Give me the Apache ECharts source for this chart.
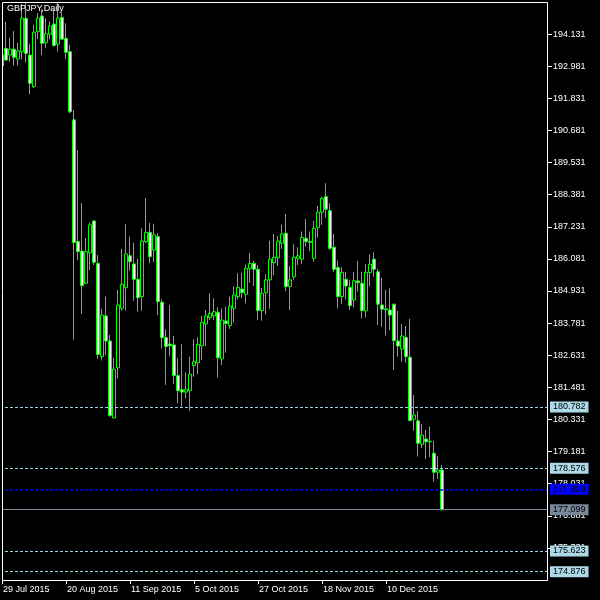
<!DOCTYPE html>
<html>
<head>
<meta charset="utf-8">
<script src="https://cdn.jsdelivr.net/npm/echarts@6/dist/echarts.min.js"></script>
<style>html,body{margin:0;padding:0;background:#000;}#chart{width:600px;height:600px;}</style>
</head>
<body>
<div id="chart"></div>
<script>
const title = 'GBPJPY,Daily';
const dates = [
'29 Jul 2015','30 Jul 2015','31 Jul 2015',
'3 Aug 2015','4 Aug 2015','5 Aug 2015','6 Aug 2015','7 Aug 2015','10 Aug 2015','11 Aug 2015','12 Aug 2015','13 Aug 2015','14 Aug 2015','17 Aug 2015','18 Aug 2015','19 Aug 2015','20 Aug 2015','21 Aug 2015','24 Aug 2015','25 Aug 2015','26 Aug 2015','27 Aug 2015','28 Aug 2015','31 Aug 2015',
'1 Sep 2015','2 Sep 2015','3 Sep 2015','4 Sep 2015','7 Sep 2015','8 Sep 2015','9 Sep 2015','10 Sep 2015','11 Sep 2015','14 Sep 2015','15 Sep 2015','16 Sep 2015','17 Sep 2015','18 Sep 2015','21 Sep 2015','22 Sep 2015','23 Sep 2015','24 Sep 2015','25 Sep 2015','28 Sep 2015','29 Sep 2015','30 Sep 2015',
'1 Oct 2015','2 Oct 2015','5 Oct 2015','6 Oct 2015','7 Oct 2015','8 Oct 2015','9 Oct 2015','12 Oct 2015','13 Oct 2015','14 Oct 2015','15 Oct 2015','16 Oct 2015','19 Oct 2015','20 Oct 2015','21 Oct 2015','22 Oct 2015','23 Oct 2015','26 Oct 2015','27 Oct 2015','28 Oct 2015','29 Oct 2015','30 Oct 2015',
'2 Nov 2015','3 Nov 2015','4 Nov 2015','5 Nov 2015','6 Nov 2015','9 Nov 2015','10 Nov 2015','11 Nov 2015','12 Nov 2015','13 Nov 2015','16 Nov 2015','17 Nov 2015','18 Nov 2015','19 Nov 2015','20 Nov 2015','23 Nov 2015','24 Nov 2015','25 Nov 2015','26 Nov 2015','27 Nov 2015','30 Nov 2015',
'1 Dec 2015','2 Dec 2015','3 Dec 2015','4 Dec 2015','7 Dec 2015','8 Dec 2015','9 Dec 2015','10 Dec 2015','11 Dec 2015','14 Dec 2015','15 Dec 2015','16 Dec 2015','17 Dec 2015','18 Dec 2015','21 Dec 2015','22 Dec 2015','23 Dec 2015','24 Dec 2015','25 Dec 2015','28 Dec 2015','29 Dec 2015','30 Dec 2015'
];
const opens = [193.38,193.62,193.38,193.59,193.24,193.50,194.70,193.38,192.25,194.22,194.78,193.82,194.12,194.49,193.77,194.73,193.98,193.50,191.06,186.70,186.36,185.21,186.30,187.44,185.92,182.58,184.04,183.14,180.39,182.18,184.31,185.05,186.19,185.90,185.35,184.73,186.70,187.03,186.40,186.88,184.53,183.26,183.03,183.00,181.90,181.39,181.31,181.36,182.26,182.36,182.97,183.75,183.98,184.04,184.17,182.50,183.86,183.69,184.31,184.73,185.00,184.81,185.74,185.92,185.71,184.23,184.87,185.33,185.95,186.12,186.64,187.00,185.09,185.44,186.10,186.07,186.82,186.70,186.10,187.21,187.75,188.31,187.81,186.50,185.77,184.73,185.35,185.06,184.61,185.29,185.21,184.22,185.59,186.07,185.62,184.43,184.29,184.25,184.46,183.14,182.85,183.27,182.56,180.34,180.28,179.44,179.63,179.55,179.12,178.44,178.52];
const closes = [192.99,193.20,193.59,193.30,193.53,194.70,193.44,192.37,194.20,194.70,193.80,194.14,194.42,193.72,194.70,193.95,193.48,191.35,186.67,186.34,185.12,186.34,187.30,185.96,182.66,184.07,183.14,180.47,182.13,184.43,185.17,186.26,185.98,185.35,184.69,186.72,187.03,186.16,186.94,184.55,183.26,182.94,182.97,181.90,181.36,181.31,181.41,181.95,182.40,183.02,183.81,184.04,184.13,184.19,182.54,183.89,183.77,184.39,184.79,185.06,184.87,185.74,185.92,185.71,184.23,184.85,185.33,186.07,186.14,186.72,186.97,185.09,185.33,186.14,186.19,186.85,186.70,186.67,187.18,187.75,188.25,187.86,186.46,185.71,184.73,185.60,185.11,184.41,185.30,185.23,184.23,185.60,185.89,185.71,184.46,184.28,184.26,184.07,183.15,182.96,183.32,182.58,180.29,180.49,179.48,179.77,179.53,179.53,178.44,178.52,177.099];
const lows = [192.92,193.17,193.14,193.00,193.00,193.23,193.11,191.98,192.20,193.95,193.38,193.64,193.95,193.68,193.50,193.92,193.24,191.30,183.18,186.04,184.11,185.18,185.68,185.86,182.50,182.44,182.64,180.43,180.37,181.80,184.22,184.23,185.66,184.58,184.19,184.23,186.65,185.92,185.97,184.07,182.88,181.57,182.60,181.60,180.91,180.79,181.09,180.64,181.86,181.96,182.46,182.96,183.89,183.89,181.83,182.28,182.72,183.57,183.80,184.63,184.69,184.48,185.23,185.11,183.89,183.87,184.09,184.29,185.50,185.83,186.44,184.93,184.25,185.33,185.86,185.90,186.52,186.36,185.98,186.84,187.30,187.56,186.40,185.62,184.31,184.47,184.63,184.25,184.35,184.91,183.95,183.99,185.09,185.44,183.71,183.65,183.33,183.53,182.10,182.58,182.40,182.36,180.28,179.93,179.00,179.30,178.91,178.98,178.10,178.20,177.06];
const highs = [193.56,194.57,194.00,194.24,193.82,195.21,195.23,193.78,194.46,194.88,195.02,194.70,194.58,195.02,195.23,194.88,194.52,193.74,191.41,189.98,188.08,186.83,187.38,187.45,186.22,184.29,184.73,183.36,182.54,184.97,186.44,187.33,186.88,186.66,186.08,187.18,188.26,187.37,187.34,187.00,184.63,183.56,184.43,183.32,182.52,183.03,182.02,182.58,183.20,183.27,184.04,184.25,184.85,184.67,184.35,184.31,184.37,184.73,185.09,185.57,185.58,185.88,186.29,186.01,185.86,185.04,185.53,186.73,186.97,186.90,187.30,187.69,185.83,186.61,186.50,187.06,187.51,187.06,187.44,187.98,188.31,188.79,188.07,186.97,186.02,185.78,185.62,185.33,185.62,186.01,185.62,185.89,186.25,186.32,185.72,185.40,184.97,185.03,184.47,184.22,183.75,183.68,183.93,181.21,180.63,180.16,179.95,180.07,179.56,179.02,178.70];
const levelLines = [180.782, 178.576, 177.829, 177.099, 175.623, 174.876];
const levelKinds = ['cyan','cyan','blue','bid','cyan','cyan'];
const yMin = 174.581, yMax = 195.281, yStep = 1.15;
const labelEvery = 16;
const emptySlots = 26;

const cats = dates.concat(new Array(emptySlots).fill(''));
const candles = dates.map((d, i) => [opens[i], closes[i], lows[i], highs[i]]);
const styles = {
  cyan: {line: '#9fd3e6', type: [3, 2], width: 1.2, bg: '#add8e6'},
  blue: {line: '#0000ff', type: [3, 2], width: 1.6, bg: '#0000ff'},
  bid:  {line: '#778899', type: 'solid', width: 1, bg: '#778899'}
};
const tickFn = (idx) => idx % labelEvery === 0 && idx < dates.length;
const font = 'Liberation Sans';

const chart = echarts.init(document.getElementById('chart'), null, {renderer: 'canvas'});
chart.setOption({
  backgroundColor: '#000',
  animation: false,
  grid: {left: 0, right: 52, top: 2, bottom: 20, show: false},
  xAxis: {
    type: 'category', data: cats, boundaryGap: true,
    axisLine: {show: false},
    axisTick: {show: true, alignWithLabel: true, interval: tickFn, length: 4, lineStyle: {color: '#fff'}},
    axisLabel: {interval: tickFn, color: '#fff', fontSize: 9, fontFamily: font, align: 'left', margin: 5, padding: [0,0,0,1]},
    splitLine: {show: false}
  },
  yAxis: {
    type: 'value', position: 'right', min: yMin, max: yMax, interval: yStep,
    axisLine: {show: false},
    axisTick: {show: true, length: 4, lineStyle: {color: '#fff'}},
    axisLabel: {color: '#fff', fontSize: 9, fontFamily: font, margin: 5, showMinLabel: false, showMaxLabel: false,
      formatter: v => v.toFixed(3)},
    splitLine: {show: false}
  },
  series: [{
    type: 'candlestick',
    data: candles,
    barWidth: 3,
    itemStyle: {color: '#000', color0: '#fff', borderColor: '#00ff00', borderColor0: '#00ff00', borderWidth: 1},
    markLine: {
      silent: true, animation: false, symbol: ['none', 'none'],
      data: levelLines.map((v, i) => {
        const s = styles[levelKinds[i]];
        return {
          yAxis: v,
          lineStyle: {color: s.line, type: s.type, width: s.width, opacity: 1},
          label: {show: true, position: 'end', distance: 2, formatter: () => v.toFixed(3),
            color: '#000', fontSize: 9, fontFamily: font, backgroundColor: s.bg, padding: [1, 3, 1, 3], lineHeight: 9}
        };
      })
    }
  }],
  graphic: [
    {type: 'rect', z: 99, shape: {x: 0, y: 0, width: 2, height: 582}, style: {fill: '#000'}},
    {type: 'rect', z: 100, shape: {x: 2.5, y: 2.5, width: 545, height: 578}, style: {fill: 'none', stroke: '#fff', lineWidth: 1}},
    {type: 'text', z: 101, left: 7, top: 4, style: {text: title, fill: '#fff', font: '9px "Liberation Sans"'}}
  ]
});
</script>
</body>
</html>
